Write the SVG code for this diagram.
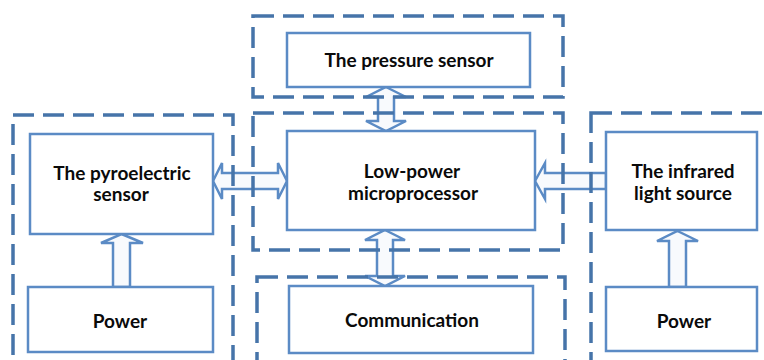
<svg xmlns="http://www.w3.org/2000/svg" width="764" height="360" viewBox="0 0 764 360">
<style>
.dash{fill:none;stroke:#4674a9;stroke-width:3.5;stroke-dasharray:21 9}
.box{fill:#ffffff;stroke:#5b8bc5;stroke-width:2.5}
.arr{fill:#f8fafd;stroke:#5b8bc5;stroke-width:2.5;stroke-linejoin:miter}
text{font-family:Lato,"Open Sans","Liberation Sans",sans-serif;font-weight:700;font-size:19px;fill:#0a0a0a;text-anchor:middle}
</style>
<rect width="764" height="360" fill="#ffffff"/>
<g id="connectors">
<polygon class="arr" points="213,181 222,163 222,173 278,173 278,163 287,181 278,199 278,189 222,189 222,199"/>
<polygon class="arr" points="535,181 545,163 545,173 606,173 606,189 545,189 545,199"/>
<polygon class="arr" points="386,87 406,97 394,97 394,121 406,121 386,131 366,121 378,121 378,97 366,97"/>
<polygon class="arr" points="385,230 405,240 393,240 393,276 405,276 385,286 365,276 377,276 377,240 365,240"/>
<polygon class="arr" points="121.5,234 143,243 130,243 130,287 113,287 113,243 101,243"/>
<polygon class="arr" points="677.5,231 698,241 686,241 686,287 669,287 669,241 657,241"/>
</g>
<g id="groups">
<rect id="grp-left" class="dash" x="13" y="115" width="220" height="260"/>
<rect id="grp-top" class="dash" x="253" y="16" width="310" height="81"/>
<rect id="grp-mid" class="dash" x="253" y="113" width="310" height="137"/>
<rect id="grp-bottom" class="dash" x="257" y="277" width="308" height="100"/>
<rect id="grp-right" class="dash" x="591" y="113" width="200" height="260"/>
</g>
<g id="pyro">
<rect class="box" x="30" y="134" width="183" height="100"/>
<text x="122" y="180">The pyroelectric</text>
<text x="121" y="201">sensor</text>
</g>
<g id="power-left">
<rect class="box" x="28" y="287" width="185" height="65"/>
<text x="120" y="328">Power</text>
</g>
<g id="pressure">
<rect class="box" x="287" y="33" width="243" height="54"/>
<text x="409" y="67">The pressure sensor</text>
</g>
<g id="micro">
<rect class="box" x="287" y="131" width="248" height="99"/>
<text x="412" y="178">Low-power</text>
<text x="413" y="200">microprocessor</text>
</g>
<g id="comm">
<rect class="box" x="289" y="286" width="244" height="67"/>
<text x="412" y="327">Communication</text>
</g>
<g id="infrared">
<rect class="box" x="606" y="132" width="151" height="98"/>
<text x="683" y="178">The infrared</text>
<text x="683" y="200">light source</text>
</g>
<g id="power-right">
<rect class="box" x="606" y="287" width="151" height="64"/>
<text x="684" y="328">Power</text>
</g>
</svg>
